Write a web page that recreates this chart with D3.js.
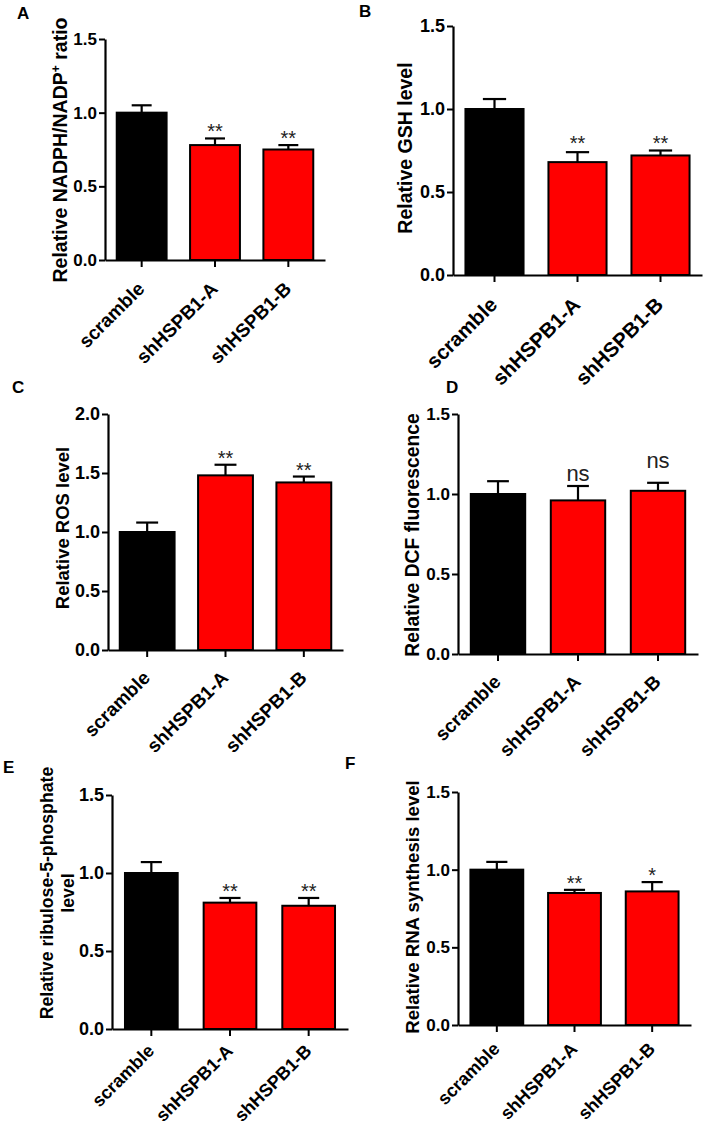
<!DOCTYPE html>
<html>
<head>
<meta charset="utf-8">
<script src="https://cdn.jsdelivr.net/npm/d3@7"></script>
<style>
  body { margin: 0; background: #fff; }
  svg { display: block; font-family: "Liberation Sans", Arial, Helvetica, sans-serif; }
</style>
</head>
<body>
<svg id="fig" width="705" height="1125"></svg>
<script>
// groups and bar colours shared by every panel
const categories = ["scramble", "shHSPB1-A", "shHSPB1-B"];
const barColors = ["#000000", "#ff0000", "#ff0000"];

// A - NADPH/NADP+ ratio
const nadphMean = [1.00, 0.78, 0.75];
const nadphErr = [0.05, 0.045, 0.03];
const nadphSig = ["", "**", "**"];

// B - GSH
const gshMean = [1.00, 0.68, 0.72];
const gshErr = [0.06, 0.06, 0.03];
const gshSig = ["", "**", "**"];

// C - ROS
const rosMean = [1.00, 1.48, 1.42];
const rosErr = [0.08, 0.09, 0.05];
const rosSig = ["", "**", "**"];

// D - DCF fluorescence
const dcfMean = [1.00, 0.96, 1.02];
const dcfErr = [0.08, 0.09, 0.05];
const dcfSig = ["", "ns", "ns"];

// E - ribulose-5-phosphate
const r5pMean = [1.00, 0.81, 0.79];
const r5pErr = [0.07, 0.03, 0.05];
const r5pSig = ["", "**", "**"];

// F - RNA synthesis
const rnaMean = [1.00, 0.85, 0.86];
const rnaErr = [0.05, 0.02, 0.06];
const rnaSig = ["", "**", "*"];

// tick labels
const ticks15 = [0, 0.5, 1.0, 1.5];
const ticks20 = [0, 0.5, 1.0, 1.5, 2.0];

// axis titles (label lines, each a list of pieces)
const labelA = [[{ t: "Relative NADPH/NADP" }, { t: "+", sup: true }, { t: " ratio" }]];
const labelB = [[{ t: "Relative GSH level" }]];
const labelC = [[{ t: "Relative ROS level" }]];
const labelD = [[{ t: "Relative DCF fluorescence" }]];
const labelE = [[{ t: "Relative ribulose-5-phosphate" }], [{ t: "level" }]];
const labelF = [[{ t: "Relative RNA synthesis level" }]];

// layout of each panel on the page
const panels = [
    { letter: "A", mean: nadphMean, err: nadphErr, sig: nadphSig, yMax: 1.5, ticks: ticks15, label: labelA,
      x0: 105, x1: 325, yTop: 39, yBot: 260, pad: 0.32, letterAt: [17, 19], labelAt: [60, 150],
      tickFs: 17, catFs: 19, catDy: 30, labelFs: 19.5, sigFs: 20, sigLift: [0, 0, 0] },
    { letter: "B", mean: gshMean, err: gshErr, sig: gshSig, yMax: 1.5, ticks: ticks15, label: labelB,
      x0: 453, x1: 702, yTop: 26, yBot: 275, pad: 0.3, letterAt: [359, 17], labelAt: [405, 148],
      tickFs: 18, catFs: 20.5, catDy: 31, labelFs: 19.5, sigFs: 20, sigLift: [0, 2, 1] },
    { letter: "C", mean: rosMean, err: rosErr, sig: rosSig, yMax: 2.0, ticks: ticks20, label: labelC,
      x0: 108, x1: 343, yTop: 414, yBot: 650, pad: 0.3, letterAt: [12, 393], labelAt: [63, 528],
      tickFs: 18, catFs: 19, catDy: 29, labelFs: 18.5, sigFs: 20, sigLift: [0, 0, 0] },
    { letter: "D", mean: dcfMean, err: dcfErr, sig: dcfSig, yMax: 1.5, ticks: ticks15, label: labelD,
      x0: 458, x1: 698, yTop: 414, yBot: 654, pad: 0.32, letterAt: [446, 393], labelAt: [412, 535],
      tickFs: 17, catFs: 19, catDy: 29, labelFs: 19.3, sigFs: 22, sigLift: [0, 5.5, 15] },
    { letter: "E", mean: r5pMean, err: r5pErr, sig: r5pSig, yMax: 1.5, ticks: ticks15, label: labelE,
      x0: 112, x1: 348, yTop: 795, yBot: 1029, pad: 0.33, letterAt: [3, 773], labelAt: [47, 893],
      tickFs: 18, catFs: 18, catDy: 23, labelFs: 17.7, sigFs: 20, sigLift: [0, 0, 0] },
    { letter: "F", mean: rnaMean, err: rnaErr, sig: rnaSig, yMax: 1.5, ticks: ticks15, label: labelF,
      x0: 458, x1: 691, yTop: 792, yBot: 1025, pad: 0.32, letterAt: [345, 769], labelAt: [412, 907],
      tickFs: 17, catFs: 18, catDy: 25, labelFs: 18.6, sigFs: 20, sigLift: [0, 0, 0] }
];

const svg = d3.select("#fig");

function drawPanel(p) {
    const g = svg.append("g").attr("class", "panel-" + p.letter);

    const x = d3.scaleBand()
        .domain(categories)
        .range([p.x0, p.x1])
        .paddingInner(p.pad)
        .paddingOuter(p.pad / 2);
    const y = d3.scaleLinear().domain([0, p.yMax]).range([p.yBot, p.yTop]);

    // bars
    g.append("g").selectAll("rect")
        .data(categories)
        .join("rect")
        .attr("x", d => x(d))
        .attr("y", (d, i) => y(p.mean[i]))
        .attr("width", x.bandwidth())
        .attr("height", (d, i) => y(0) - y(p.mean[i]))
        .attr("fill", (d, i) => barColors[i])
        .attr("stroke", "#000")
        .attr("stroke-width", 2);

    // upper error bars
    const capW = x.bandwidth() * 0.4;
    const eb = g.append("g").attr("stroke", "#000").attr("stroke-width", 2.2);
    categories.forEach((c, i) => {
        const cx = x(c) + x.bandwidth() / 2;
        eb.append("line")
            .attr("x1", cx).attr("x2", cx)
            .attr("y1", y(p.mean[i])).attr("y2", y(p.mean[i] + p.err[i]));
        eb.append("line")
            .attr("x1", cx - capW / 2).attr("x2", cx + capW / 2)
            .attr("y1", y(p.mean[i] + p.err[i])).attr("y2", y(p.mean[i] + p.err[i]));
    });

    // significance marks
    g.append("g").selectAll("text")
        .data(categories)
        .join("text")
        .attr("x", d => x(d) + x.bandwidth() / 2)
        .attr("y", (d, i) => y(p.mean[i] + p.err[i]) - p.sigLift[i])
        .attr("text-anchor", "middle")
        .attr("font-size", p.sigFs)
        .attr("fill", "#222")
        .text((d, i) => p.sig[i]);

    // y axis
    const yAxis = g.append("g")
        .attr("transform", `translate(${p.x0},0)`)
        .call(d3.axisLeft(y).tickValues(p.ticks).tickFormat(d3.format(".1f")).tickSize(6).tickSizeOuter(0).tickPadding(2));
    yAxis.selectAll("text")
        .attr("font-size", p.tickFs)
        .attr("font-weight", "bold")
        .attr("fill", "#000");

    // x axis
    const xAxis = g.append("g")
        .attr("transform", `translate(0,${p.yBot})`)
        .call(d3.axisBottom(x).tickSize(7).tickSizeOuter(0));
    xAxis.selectAll("text").remove();

    [yAxis, xAxis].forEach(a => {
        a.attr("font-family", null);
        a.select(".domain").attr("stroke", "#000").attr("stroke-width", 2.2);
        a.selectAll(".tick line").attr("stroke", "#000").attr("stroke-width", 2);
    });

    // rotated category labels
    g.append("g").selectAll("text")
        .data(categories)
        .join("text")
        .attr("transform", d => `translate(${x(d) + x.bandwidth() / 2 + 4},${p.yBot + p.catDy}) rotate(-45)`)
        .attr("text-anchor", "end")
        .attr("font-size", p.catFs)
        .attr("font-weight", "bold")
        .text(d => d);

    // y axis title
    const title = g.append("text")
        .attr("transform", `translate(${p.labelAt[0]},${p.labelAt[1]}) rotate(-90)`)
        .attr("text-anchor", "middle")
        .attr("font-size", p.labelFs)
        .attr("font-weight", "bold");
    p.label.forEach((line, li) => {
        line.forEach((piece, pi) => {
            const ts = title.append("tspan").text(piece.t);
            if (pi === 0) ts.attr("x", 0).attr("dy", li === 0 ? "0.35em" : "1.2em");
            if (piece.sup) ts.attr("font-size", "0.62em").attr("baseline-shift", "super");
        });
    });

    // panel letter
    g.append("text")
        .attr("x", p.letterAt[0])
        .attr("y", p.letterAt[1])
        .attr("font-size", 17)
        .attr("font-weight", "bold")
        .text(p.letter);
}

panels.forEach(drawPanel);
</script>
</body>
</html>
